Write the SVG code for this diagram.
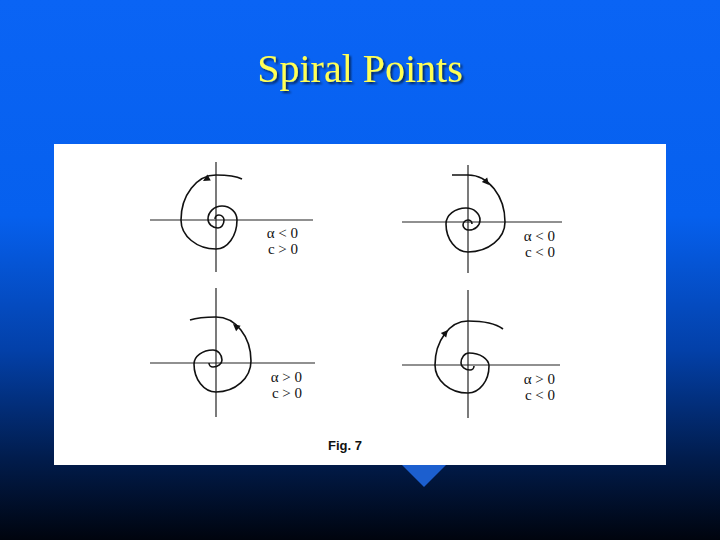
<svg xmlns="http://www.w3.org/2000/svg" width="720" height="540" viewBox="0 0 720 540">
<defs>
<linearGradient id="bg" x1="0" y1="0" x2="0" y2="1">
<stop offset="0" stop-color="#0a64f5"/>
<stop offset="0.4" stop-color="#0660ee"/>
<stop offset="0.65" stop-color="#0340a8"/>
<stop offset="0.85" stop-color="#011c4c"/>
<stop offset="1" stop-color="#00040e"/>
</linearGradient>
<filter id="sh" x="-10%" y="-20%" width="130%" height="150%"><feDropShadow dx="2" dy="2" stdDeviation="0.8" flood-color="#000" flood-opacity="0.6"/></filter>
<path id="ah" d="M0,0 L-7,-3.5 L-7,3.5Z" fill="#111"/>
</defs>
<style>
.ax{stroke:#222;stroke-width:1.2;fill:none}
.sp{stroke:#111;stroke-width:1.6;fill:none}
.lb{font-family:"Liberation Serif",serif;font-size:15px;fill:#111;text-anchor:end}
</style>
<rect width="720" height="540" fill="url(#bg)"/>
<text x="360" y="82" font-family="Liberation Serif,serif" font-size="40" fill="#ffff55" text-anchor="middle" filter="url(#sh)">Spiral Points</text>
<polygon points="402,465 446,465 424,487" fill="#1c5fcf"/>
<rect x="54" y="144" width="612" height="321" fill="#fff"/>
<g id="p1">
<line class="ax" x1="216" y1="162" x2="216" y2="272"/><line class="ax" x1="150" y1="220" x2="313" y2="220"/>
<path class="sp" d="M242,179 C236,176 224,175 216,175 C196.75,175 181,195.25 181,220 C181,236 196.75,249 216,249 C227.55,249 237,236 237,220 C237,212.3 230.25,206 222,206 C214.3,206 208,211.85 208,219 C208,224 212.5,228 218,228 C221.3,228 224,224.4 224,220 C224,217.25 221.75,215 219,215 C216.8,215 215,216.8 215,219"/>
<use href="#ah" transform="translate(203,181) rotate(150)"/>
<text class="lb" x="298" y="238">α &lt; 0</text><text class="lb" x="298" y="254">c &gt; 0</text>
</g>
<g id="p2">
<line class="ax" x1="468" y1="165" x2="468" y2="273"/><line class="ax" x1="402" y1="222" x2="562" y2="222"/>
<path class="sp" d="M452,175 L468,175 C488.35,175 505,196.15 505,222 C505,238.5 488.35,252 468,252 C455.9,252 446,239.4 446,224 C446,215.2 455,208 466,208 C473.7,208 480,213.4 480,220 C480,225.5 475.05,230 469,230 C465.7,230 463,227.75 463,225 C463,222.25 465.25,220 468,220 C470.2,220 472,221.8 472,224"/>
<use href="#ah" transform="translate(489,185) rotate(50)"/>
<text class="lb" x="555" y="241">α &lt; 0</text><text class="lb" x="555" y="257">c &lt; 0</text>
</g>
<g id="p3">
<line class="ax" x1="216" y1="288" x2="216" y2="417"/><line class="ax" x1="150" y1="363" x2="315" y2="363"/>
<path class="sp" d="M209,363 C209,365.2 210.8,367 213,367 C217.95,367 222,363.85 222,360 C222,354.5 217.95,350 213,350 C202.55,350 194,356.3 194,364 C194,379.4 203.9,392 216,392 C235.25,392 251,378.05 251,361 C251,336.25 235.25,317 216,317 C205,317 196,318 190,320"/>
<use href="#ah" transform="translate(233,324) rotate(-140)"/>
<text class="lb" x="302" y="382">α &gt; 0</text><text class="lb" x="302" y="398">c &gt; 0</text>
</g>
<g id="p4">
<line class="ax" x1="468" y1="290" x2="468" y2="418"/><line class="ax" x1="402" y1="365" x2="560" y2="365"/>
<path class="sp" d="M474,366 C474,368.2 472.2,370 470,370 C465.05,370 461,366.85 461,363 C461,357.5 464.6,353 469,353 C480,353 489,358.85 489,366 C489,380.85 479.55,393 468,393 C449.85,393 435,380.4 435,365 C435,340.8 449.85,321 468,321 C482,321 495,323 503,329"/>
<use href="#ah" transform="translate(448,330) rotate(-50)"/>
<text class="lb" x="555" y="384">α &gt; 0</text><text class="lb" x="555" y="400">c &lt; 0</text>
</g>
<text x="328" y="450" font-family="Liberation Sans,sans-serif" font-weight="bold" font-size="13" fill="#111">Fig. 7</text>
</svg>
